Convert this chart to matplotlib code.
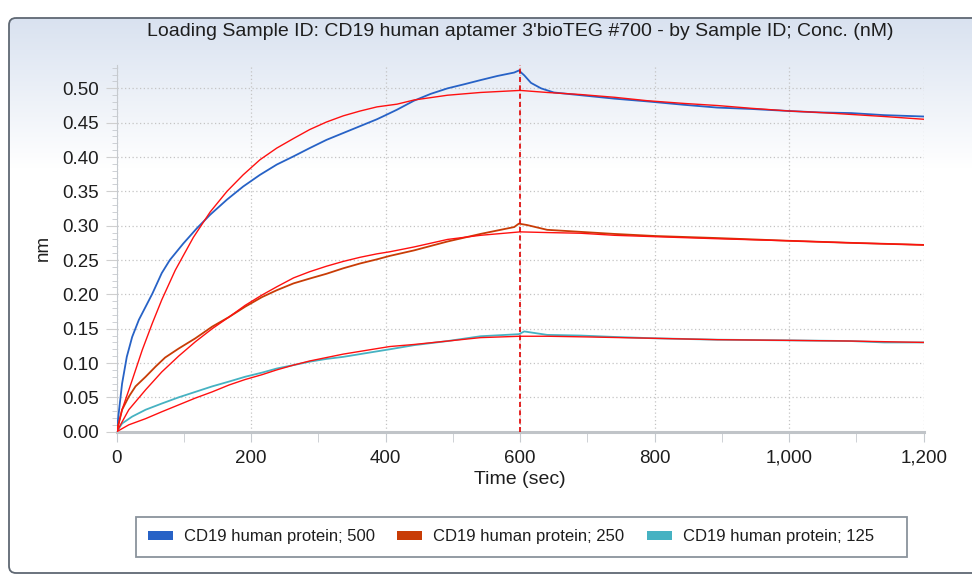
import matplotlib
matplotlib.use('Agg')
import matplotlib.pyplot as plt
import numpy as np
from matplotlib.patches import FancyBboxPatch, Patch, Rectangle
from matplotlib.ticker import MultipleLocator, FuncFormatter

plt.rcParams['font.family'] = ['Liberation Sans', 'DejaVu Sans']

title = "Loading Sample ID: CD19 human aptamer 3'bioTEG #700 - by Sample ID; Conc. (nM)"
labels = ['CD19 human protein; 500', 'CD19 human protein; 250', 'CD19 human protein; 125']
colors = ['#2762c6', '#c83c06', '#46b2c2']
fit_color = '#ff1010'

t_500 = [0, 3, 8, 15, 23, 33, 43, 53, 67, 79, 99, 119, 139, 164, 188, 213, 238, 263,
         287, 312, 337, 362, 387, 400, 417, 442, 467, 492, 517, 541, 566, 591, 598,
         606, 616, 631, 650, 690, 740, 789, 844, 893, 943, 1000, 1043, 1092, 1141, 1200]
y_500 = [0, 0.027, 0.070, 0.109, 0.138, 0.163, 0.182, 0.201, 0.231, 0.250, 0.274, 0.296,
         0.316, 0.338, 0.357, 0.374, 0.389, 0.401, 0.413, 0.425, 0.435, 0.445, 0.455,
         0.461, 0.469, 0.482, 0.492, 0.500, 0.506, 0.512, 0.518, 0.523, 0.526, 0.519,
         0.508, 0.500, 0.494, 0.490, 0.485, 0.481, 0.476, 0.472, 0.470, 0.467, 0.465,
         0.464, 0.461, 0.459]

t_250 = [0, 8, 18, 28, 43, 58, 72, 92, 117, 142, 167, 191, 216, 238, 263, 287, 312, 337,
         362, 387, 406, 442, 492, 541, 591, 598, 610, 640, 690, 740, 800, 893, 1000, 1092, 1200]
y_250 = [0, 0.032, 0.051, 0.066, 0.080, 0.095, 0.108, 0.121, 0.136, 0.153, 0.167, 0.182,
         0.196, 0.206, 0.216, 0.223, 0.230, 0.238, 0.245, 0.251, 0.256, 0.264, 0.277,
         0.288, 0.298, 0.303, 0.301, 0.294, 0.291, 0.288, 0.285, 0.282, 0.278, 0.275, 0.272]

t_125 = [0, 8, 23, 43, 67, 92, 117, 142, 167, 191, 216, 238, 263, 287, 312, 337, 362, 387,
         406, 442, 492, 541, 598, 606, 640, 690, 740, 800, 893, 1000, 1092, 1141, 1200]
y_125 = [0, 0.012, 0.022, 0.032, 0.041, 0.050, 0.058, 0.066, 0.073, 0.080, 0.086, 0.092,
         0.097, 0.102, 0.106, 0.109, 0.113, 0.117, 0.120, 0.126, 0.132, 0.139, 0.142,
         0.146, 0.141, 0.140, 0.138, 0.136, 0.134, 0.133, 0.132, 0.130, 0.130]

# fitted curves
tf_500 = [0, 8, 23, 38, 53, 67, 87, 114, 139, 164, 188, 213, 238, 263, 287, 312, 337, 362,
          387, 417, 442, 492, 541, 600, 640, 690, 740, 789, 844, 893, 943, 1000, 1043,
          1092, 1141, 1200]
yf_500 = [0, 0.032, 0.075, 0.119, 0.158, 0.192, 0.235, 0.283, 0.320, 0.350, 0.374, 0.396,
          0.413, 0.427, 0.440, 0.451, 0.460, 0.467, 0.473, 0.477, 0.483, 0.490, 0.494,
          0.497, 0.494, 0.491, 0.487, 0.482, 0.478, 0.475, 0.471, 0.467, 0.465, 0.462,
          0.459, 0.455]

tf_250 = [0, 18, 43, 67, 92, 117, 142, 167, 191, 216, 238, 263, 287, 312, 337, 362, 387,
          406, 442, 492, 541, 600, 640, 690, 740, 800, 893, 1000, 1092, 1200]
yf_250 = [0, 0.032, 0.061, 0.087, 0.110, 0.131, 0.150, 0.167, 0.184, 0.199, 0.211, 0.224,
          0.233, 0.241, 0.248, 0.254, 0.259, 0.262, 0.269, 0.280, 0.286, 0.291, 0.290,
          0.289, 0.286, 0.284, 0.281, 0.278, 0.275, 0.272]

tf_125 = [0, 18, 43, 67, 92, 117, 142, 167, 191, 216, 238, 263, 287, 312, 337, 362, 387,
          406, 442, 492, 541, 600, 640, 700, 800, 893, 1000, 1092, 1200]
yf_125 = [0, 0.010, 0.019, 0.029, 0.039, 0.049, 0.058, 0.068, 0.076, 0.083, 0.090, 0.097,
          0.103, 0.108, 0.113, 0.117, 0.121, 0.124, 0.127, 0.132, 0.137, 0.139, 0.139,
          0.138, 0.136, 0.134, 0.133, 0.132, 0.130]

step_time = 600

W, H = 972, 576
fig = plt.figure(figsize=(W / 100, H / 100), dpi=100)
fig.patch.set_facecolor('white')

# panel background with vertical gradient
bg = fig.add_axes([0, 0, 1, 1])
bg.set_xlim(0, W)
bg.set_ylim(H, 0)
bg.axis('off')
top_rgb = np.array([217, 226, 240]) / 255.0
fade = np.clip((np.arange(18, 574) - 18) / 150.0, 0, 1)[:, None, None]
grad = top_rgb * (1 - fade) + np.ones(3) * fade
grad = np.repeat(grad, 2, axis=1)
panel = FancyBboxPatch((9, 18), 1000, 555, boxstyle='round,pad=0,rounding_size=7',
                       ec='#5f6873', fc='none', lw=1.3, zorder=3)
bg.add_patch(panel)
im = bg.imshow(grad, extent=[9, 1009, 573, 18], aspect='auto', zorder=1)
im.set_clip_path(panel)

# legend box
bg.add_patch(Rectangle((136, 517), 771, 40, fc='white', ec='#8a939c', lw=1.3, zorder=4))

ax = fig.add_axes([116.7 / W, 1 - 431.7 / H, 807 / W, (431.7 - 65) / H])
ax.patch.set_alpha(0)

for t, y, c in zip([t_500, t_250, t_125], [y_500, y_250, y_125], colors):
    ax.plot(t, y, color=c, lw=1.3, zorder=3)
for t, y in zip([tf_500, tf_250, tf_125], [yf_500, yf_250, yf_125]):
    ax.plot(t, y, color=fit_color, lw=1.0, zorder=4)

ax.axvline(step_time, color='#e00000', ls=(0, (3, 2)), lw=1.2, zorder=5)

ax.set_xlim(0, 1200)
ax.set_ylim(0, 0.534)
ax.xaxis.set_major_locator(MultipleLocator(200))
ax.xaxis.set_minor_locator(MultipleLocator(100))
ax.yaxis.set_major_locator(MultipleLocator(0.05))
ax.yaxis.set_minor_locator(MultipleLocator(0.01))
ax.xaxis.set_major_formatter(FuncFormatter(lambda v, p: '{:,}'.format(int(round(v)))))
ax.yaxis.set_major_formatter(FuncFormatter(lambda v, p: '%.2f' % v))

ax.grid(True, which='major', ls=(0, (1, 2)), color='#c4c4c4', lw=0.9, zorder=0)

for s in ['top', 'right']:
    ax.spines[s].set_visible(False)
ax.spines['left'].set_color('#c6cacf')
ax.spines['bottom'].set_color('#c0c4c8')
ax.spines['bottom'].set_linewidth(2.2)

ax.tick_params(axis='y', which='major', length=8, color='#cfcfcf', pad=5,
               labelsize=13.5, labelcolor='#1e1e1e')
ax.tick_params(axis='y', which='minor', length=3.5, color='#c6cacf')
ax.tick_params(axis='x', which='both', length=7, color='#c6cacf', pad=6,
               labelsize=13.5, labelcolor='#1e1e1e')

ax.set_xlabel('Time (sec)', fontsize=14, color='#1e1e1e', labelpad=3)
ax.set_ylabel('nm', fontsize=13.5, color='#1e1e1e')
ax.yaxis.set_label_coords(-0.080, 0.50)

fig.text(520 / W, 1 - 31 / H, title, ha='center', va='center', fontsize=14, color='#1e1e1e')

handles = [Patch(facecolor=c, edgecolor='none') for c in colors]
leg = fig.legend(handles, labels, ncol=3, loc='center left',
                 bbox_to_anchor=(148 / W, 1 - 537 / H),
                 fontsize=12, frameon=False, borderaxespad=0, borderpad=0,
                 handlelength=1.5, handleheight=0.5, handletextpad=0.65,
                 columnspacing=1.35)
for txt in leg.get_texts():
    txt.set_color('#1e1e1e')

fig.savefig('out.png', dpi=100)
